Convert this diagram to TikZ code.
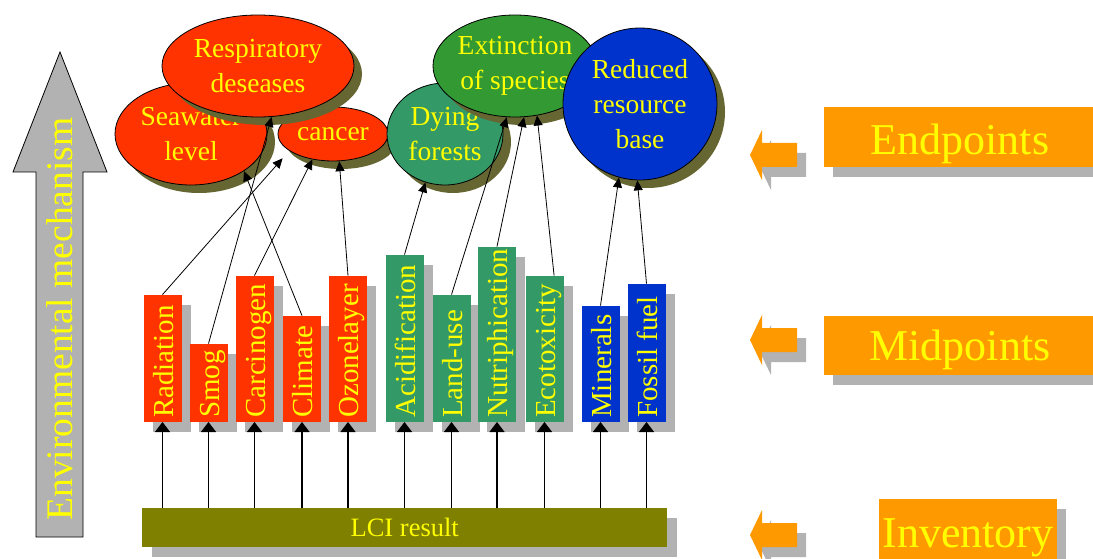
\documentclass[tikz,border=0pt]{standalone}
\usepackage{fontspec}
\setmainfont{Liberation Serif}
\usetikzlibrary{shapes.geometric,arrows.meta,shadows,calc}

\definecolor{hazard}{HTML}{FF3300}
\definecolor{forest}{HTML}{339966}
\definecolor{grass}{HTML}{339933}
\definecolor{cobalt}{HTML}{0033CC}
\definecolor{olivebar}{HTML}{808000}
\definecolor{ellshadow}{HTML}{666633}
\definecolor{shgray}{HTML}{B2B2B2}
\definecolor{orangec}{HTML}{FF9900}
\definecolor{txtyellow}{HTML}{FFFF00}

\begin{document}
\begin{tikzpicture}[x=1pt,y=-1pt,
  impact/.style={ellipse, draw=black, line width=0.8pt, text=txtyellow, align=center,
    inner sep=0pt, font=\fontsize{27.5}{35}\selectfont,
    drop shadow={shadow xshift=8pt, shadow yshift=-8pt, fill=ellshadow, opacity=1}},
  barbox/.style={rectangle, minimum width=38pt, inner sep=0pt, anchor=south, draw=none,
    drop shadow={shadow xshift=9pt, shadow yshift=-10pt, fill=shgray, opacity=1}},
  barlabel/.style={rotate=90, anchor=base west, text=txtyellow, inner sep=0pt,
    font=\fontsize{29}{29}\selectfont},
  lcibox/.style={rectangle, fill=olivebar, inner sep=0pt, anchor=north west, text=txtyellow,
    font=\fontsize{26.5}{26.5}\selectfont,
    drop shadow={shadow xshift=10pt, shadow yshift=-10pt, fill=shgray, opacity=1}},
  obox/.style={rectangle, fill=orangec, inner sep=0pt, anchor=north west,
    drop shadow={shadow xshift=9pt, shadow yshift=-10pt, fill=shgray, opacity=1}},
  otext/.style={anchor=base, text=txtyellow, inner sep=0pt, font=\fontsize{44}{44}\selectfont},
  lowarrow/.style={line width=1.2pt, -{Triangle[width=15pt,length=10pt]}},
  uparrow/.style={line width=0.8pt, -{Triangle[width=9pt,length=10pt]}},
  orangearrow/.pic={
    \fill[shgray] (9,10) -- (21,-15) -- (21,-2) -- (56,-2) -- (56,22) -- (21,22) -- (21,35) -- cycle;
    \fill[orangec] (0,0) -- (12,-25) -- (12,-12) -- (47,-12) -- (47,12) -- (12,12) -- (12,25) -- cycle;
  }
]
\useasboundingbox (0,0) rectangle (1093,559);
\clip (0,0) rectangle (1093,559);

% environmental mechanism arrow
\draw[fill=shgray, line width=0.8pt] (36,537) -- (36,172) -- (13,172) -- (60,52) -- (107,172) -- (83,172) -- (83,537) -- cycle;
\node[rotate=90, anchor=base, text=txtyellow, inner sep=0pt, font=\fontsize{37.5}{37.5}\selectfont] (envtxt) at (72,319) {Environmental mechanism};

% inventory bar
\node[lcibox, minimum width=525pt, minimum height=39pt] (lci) at (142,508) {LCI result};

% midpoint categories
\node[barbox, fill=hazard, minimum height=127pt] (rad) at (162.5,422) {};
\node[barlabel] (radt) at (173,418) {Radiation};
\node[barbox, fill=hazard, minimum height=78pt] (smog) at (208.5,422) {};
\node[barlabel] (smogt) at (219,418) {Smog};
\node[barbox, fill=hazard, minimum height=146pt] (carc) at (254.5,422) {};
\node[barlabel] (carct) at (265,418) {Carcinogen};
\node[barbox, fill=hazard, minimum height=106pt] (clim) at (302,422) {};
\node[barlabel] (climt) at (312.5,418) {Climate};
\node[barbox, fill=hazard, minimum height=146pt] (ozon) at (348,422) {};
\node[barlabel] (ozont) at (358.5,418) {Ozonelayer};
\node[barbox, fill=forest, minimum height=167pt] (acid) at (404.5,422) {};
\node[barlabel] (acidt) at (415,418) {Acidification};
\node[barbox, fill=forest, minimum height=127pt] (land) at (451.5,422) {};
\node[barlabel] (landt) at (462,418) {Land-use};
\node[barbox, fill=forest, minimum height=175pt] (nutr) at (497,422) {};
\node[barlabel] (nutrt) at (507.5,418) {Nutriphication};
\node[barbox, fill=forest, minimum height=146pt] (eco) at (544.5,422) {};
\node[barlabel] (ecot) at (555,418) {Ecotoxicity};
\node[barbox, fill=cobalt, minimum height=116pt] (mins) at (600.5,422) {};
\node[barlabel] (minst) at (611,418) {Minerals};
\node[barbox, fill=cobalt, minimum height=138pt] (foss) at (646.5,422) {};
\node[barlabel] (fosst) at (657,418) {Fossil fuel};

% inventory to midpoints
\foreach \b in {rad,smog,carc,clim,ozon,acid,land,nutr,eco,mins,foss}
  \draw[lowarrow] (\b.south |- lci.north) -- (\b.south);

% endpoints
\node[impact, fill=hazard, minimum width=152pt, minimum height=102pt] (sea) at (191,134) {Seawater\\level};
\node[impact, fill=hazard, minimum width=110pt, minimum height=54pt] (cancer) at (333,134) {cancer};
\node[impact, fill=hazard, minimum width=192pt, minimum height=102pt] (resp) at (258,66) {Respiratory\\deseases};
\node[impact, fill=forest, minimum width=116pt, minimum height=102pt] (dying) at (445,134) {Dying\\forests};
\node[impact, fill=grass, minimum width=164pt, minimum height=102pt] (ext) at (515,66) {Extinction\\of species};
\node[impact, fill=cobalt, minimum width=154pt, minimum height=152pt] (res) at (640,104) {Reduced\\resource\\base};

% midpoints to endpoints
\draw[uparrow, shorten >=10pt] (rad.north) -- (cancer.201);
\draw[uparrow] (smog.north) -- (resp.285);
\draw[uparrow] (carc.north) -- (cancer.231);
\draw[uparrow] (clim.north) -- (sea.325);
\draw[uparrow] (ozon.north) -- (cancer.283);
\draw[uparrow] (acid.north) -- (dying.248);
\draw[uparrow] (land.north) -- (ext.261);
\draw[uparrow] (nutr.north) -- (ext.280);
\draw[uparrow] ($(eco.north)!0.5!(eco.north east)$) -- (ext.294);
\draw[uparrow] (mins.north) -- (res.254);
\draw[uparrow] (foss.north) -- (res.268);

% level labels
\pic at (750,155) {orangearrow};
\node[obox, minimum width=272pt, minimum height=60pt] (endbox) at (824,107) {};
\node[otext] (endtxt) at (960,155) {Endpoints};

\pic at (750,340) {orangearrow};
\node[obox, minimum width=272pt, minimum height=59pt] (midbox) at (824,316) {};
\node[otext] (midtxt) at (960,360) {Midpoints};

\pic at (750,535) {orangearrow};
\node[obox, minimum width=178pt, minimum height=62pt] (invbox) at (879,499) {};
\node[otext] (invtxt) at (968,547) {Inventory};
\end{tikzpicture}
\end{document}
